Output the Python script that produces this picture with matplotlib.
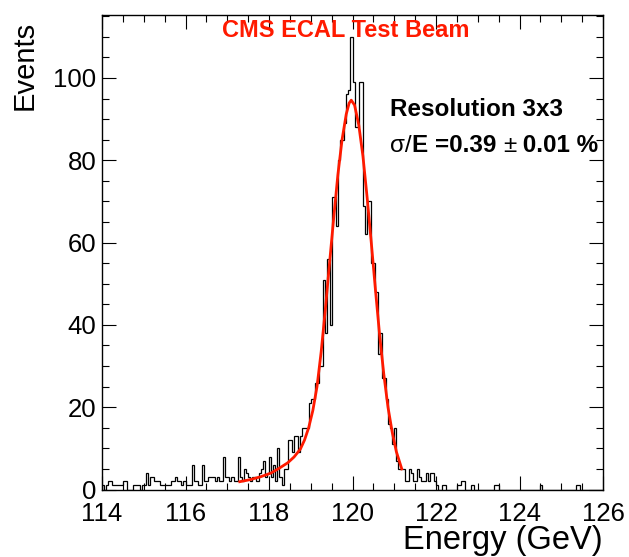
import numpy as np
import matplotlib
matplotlib.use('Agg')
import matplotlib.pyplot as plt
from matplotlib.ticker import MultipleLocator

# histogram: 240 bins of 0.05 GeV between 114 and 126 GeV
e_min, e_max = 114.0, 126.0
counts = [
    1, 0, 1, 2, 2, 1, 1, 1, 1, 1,
    2, 2, 0, 0, 0, 1, 1, 1, 0, 1,
    1, 4, 1, 3, 3, 2, 2, 2, 1, 1,
    1, 1, 1, 2, 2, 3, 2, 2, 1, 2,
    1, 1, 1, 6, 2, 2, 1, 1, 6, 2,
    2, 3, 3, 3, 2, 3, 2, 2, 8, 3,
    3, 2, 3, 2, 2, 8, 3, 2, 5, 4,
    3, 2, 3, 3, 2, 4, 5, 7, 3, 4,
    8, 3, 6, 2, 10, 3, 1, 5, 5, 12,
    12, 9, 13, 13, 9, 13, 15, 15, 15, 21,
    22, 22, 26, 26, 30, 30, 51, 38, 56, 40,
    71, 71, 64, 80, 85, 85, 89, 96, 97, 110,
    99, 88, 88, 99, 99, 69, 62, 70, 70, 55,
    55, 48, 33, 38, 27, 27, 22, 16, 15, 11,
    15, 7, 5, 5, 5, 2, 2, 5, 4, 2,
    2, 5, 3, 2, 2, 4, 2, 4, 4, 2,
    1, 0, 0, 1, 1, 0, 0, 0, 0, 0,
    1, 1, 2, 2, 0, 0, 0, 1, 0, 0,
    0, 0, 0, 0, 0, 0, 0, 0, 1, 1,
    0, 0, 0, 0, 0, 0, 0, 0, 0, 0,
    0, 0, 0, 0, 0, 0, 0, 0, 0, 0,
    1, 0, 0, 0, 0, 0, 0, 0, 0, 0,
    0, 0, 0, 0, 0, 0, 0, 1, 1, 0,
    0, 0, 0, 0, 0, 0, 0, 0, 0, 0,
]

# fitted curve
fit_e = [117.30, 117.55, 117.80, 118.05, 118.25, 118.45, 118.60, 118.75,
         118.85, 118.95, 119.05, 119.15, 119.25, 119.35, 119.45, 119.55,
         119.65, 119.75, 119.85, 119.92, 119.97, 120.05, 120.15, 120.25,
         120.35, 120.45, 120.55, 120.65, 120.75, 120.85, 120.95, 121.05,
         121.18]
fit_n = [1.9, 2.4, 3.1, 4.0, 5.2, 6.5, 7.9, 9.8,
         12.0, 15.0, 19.2, 25.0, 33.5, 43.8, 55.0, 66.0,
         76.5, 85.0, 91.2, 93.9, 94.6, 93.4, 88.6, 81.0,
         71.0, 60.0, 48.5, 37.5, 28.0, 20.0, 14.0, 9.2,
         5.0]

plt.rcParams['font.family'] = ['Liberation Sans', 'DejaVu Sans']
red = '#ff1a00'

fig = plt.figure(figsize=(6.29, 5.57), dpi=100)
ax = fig.add_axes([102/629, 67.5/557, 501/629, 474.5/557])

edges = np.linspace(e_min, e_max, len(counts) + 1)
ax.stairs(counts, edges, color='black', lw=0.9, zorder=2)
ax.plot(fit_e, fit_n, color=red, lw=2.0, zorder=3)

ax.set_xlim(e_min, e_max)
ax.set_ylim(0, 115.3)
ax.xaxis.set_major_locator(MultipleLocator(2))
ax.xaxis.set_minor_locator(MultipleLocator(0.5))
ax.yaxis.set_major_locator(MultipleLocator(20))
ax.yaxis.set_minor_locator(MultipleLocator(5))
ax.tick_params(which='both', direction='in', top=True, right=True, width=0.8)
ax.tick_params(which='major', length=10)
ax.tick_params(which='minor', length=5)
ax.tick_params(axis='x', which='major', labelsize=18.5, pad=9)
ax.tick_params(axis='y', which='major', labelsize=18.5, pad=4)
for s in ax.spines.values():
    s.set_linewidth(1.0)

fig.text(25/629, 1 - 21/557, 'Events', rotation=90, ha='center', va='top',
         fontsize=21)
fig.text(603/629, 1 - 540/557, 'Energy (GeV)', ha='right', va='center',
         fontsize=23.5)

ax.text(0.487, 0.968, 'CMS ECAL Test Beam', transform=ax.transAxes,
        ha='center', va='center', color=red, fontsize=17, fontweight='bold',
        zorder=5)
ax.text(0.575, 0.80, 'Resolution 3x3', transform=ax.transAxes,
        ha='left', va='center', fontsize=17.5, fontweight='bold')

t1 = ax.text(0.575, 0.724, 'σ/', transform=ax.transAxes, ha='left',
             va='center', fontsize=17.5)
t2 = ax.annotate('E =0.39 ', xy=(1, 0), xycoords=t1, ha='left', va='bottom',
                 fontsize=17.5, fontweight='bold')
t3 = ax.annotate('±', xy=(1, 0), xycoords=t2, ha='left', va='bottom',
                 fontsize=17.5)
ax.annotate(' 0.01 %', xy=(1, 0), xycoords=t3, ha='left', va='bottom',
            fontsize=17.5, fontweight='bold')

fig.savefig('out.png', dpi=100)
